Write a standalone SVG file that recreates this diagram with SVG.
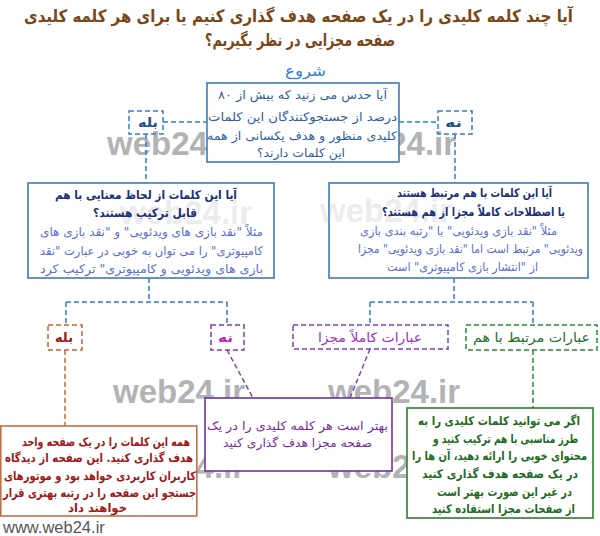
<svg xmlns="http://www.w3.org/2000/svg" width="600" height="536" viewBox="0 0 600 536">
<style>
text{font-family:"DejaVu Sans",sans-serif;text-anchor:middle;}
.fa{direction:rtl;}
.b{font-weight:bold;}
.wm{font-family:"Liberation Sans",Arial,sans-serif;font-weight:bold;font-size:33px;fill:#9a9a9a;opacity:0.75;text-anchor:start;}
.wm2{font-family:"Liberation Sans",Arial,sans-serif;font-weight:bold;font-size:33px;fill:#9a9a9a;opacity:0.18;text-anchor:start;}
.dash{fill:none;stroke-width:1.5;stroke-dasharray:5,3;}
.blue{stroke:#2f7ed4;}
.box{fill:#fff;stroke-width:1.6;}
</style>
<rect width="600" height="536" fill="#fff"/>
<g id="watermarks">
<text class="wm" x="107" y="155">web24.ir</text>
<text class="wm" x="324" y="155">web24.ir</text>
<text class="wm" x="113" y="403">web24.ir</text>
<text class="wm" x="328" y="403">web24.ir</text>
<text class="wm" x="113" y="478">web24.ir</text>
<text class="wm" x="328" y="478">web24.ir</text>
</g>
<g id="title">
<text class="fa b" x="298.5" y="22" font-size="17" fill="#7a4719" textLength="549" lengthAdjust="spacingAndGlyphs">آیا چند کلمه کلیدی را در یک صفحه هدف گذاری کنیم یا برای هر کلمه کلیدی</text>
<text class="fa b" x="300" y="46" font-size="17" fill="#7a4719" textLength="190" lengthAdjust="spacingAndGlyphs">صفحه مجزایی در نظر بگیریم؟</text>
</g>
<g id="start"><text class="fa" x="305.5" y="76" font-size="15" fill="#2f7ed4" textLength="41" lengthAdjust="spacingAndGlyphs">شروع</text></g>
<g id="connectors">
<path class="dash blue" d="M163 122H207M399 122H438M146 134V183M455 134V183"/>
<path class="dash blue" d="M149 278V302M66 302H227M66 302V325M227 302V325"/>
<path class="dash blue" d="M454 278V302M370 302H533M370 302V325M533 302V325"/>
<path class="dash" stroke="#c0653a" d="M65 350V426"/>
<path class="dash" stroke="#7b4aa8" d="M227 350L253 398M370 349L350 398"/>
<path class="dash" stroke="#2a8a2a" d="M533 350V408"/>
</g>
<g id="q1">
<rect class="box" x="207" y="83" width="192" height="79" stroke="#3b7bbf"/>
<g class="fa" font-size="12" fill="#2e5ea0">
<text x="302.5" y="99" textLength="169" lengthAdjust="spacingAndGlyphs">آیا حدس می زنید که بیش از ۸۰</text>
<text x="302.5" y="121" textLength="189" lengthAdjust="spacingAndGlyphs">درصد از جستجوکنندگان این کلمات</text>
<text x="302" y="140" textLength="190" lengthAdjust="spacingAndGlyphs">کلیدی منظور و هدف یکسانی از همه</text>
<text x="301" y="157" textLength="88" lengthAdjust="spacingAndGlyphs">این کلمات دارند؟</text>
</g>
</g>
<g id="yes1">
<rect class="dash blue" x="129" y="111" width="34" height="23"/>
<text class="fa b" x="148" y="127" font-size="13" fill="#1f4f8f" textLength="20" lengthAdjust="spacingAndGlyphs">بله</text>
</g>
<g id="no1">
<rect class="dash blue" x="438" y="111" width="34" height="23"/>
<text class="fa b" x="453.5" y="127" font-size="13" fill="#1f4f8f" textLength="17" lengthAdjust="spacingAndGlyphs">نه</text>
</g>
<g id="q2left">
<rect class="box" x="28" y="183" width="246" height="95" stroke="#3b7bbf"/>
<text class="wm2" x="120" y="224">web24.ir</text>
<g class="fa b" font-size="12" fill="#1c2f7a">
<text x="146" y="199" textLength="182" lengthAdjust="spacingAndGlyphs">آیا این کلمات از لحاظ معنایی با هم</text>
<text x="145" y="217" textLength="104" lengthAdjust="spacingAndGlyphs">قابل ترکیب هستند؟</text>
</g>
<g class="fa" font-size="12" fill="#5a6ed0">
<text x="151.5" y="236" textLength="223" lengthAdjust="spacingAndGlyphs">مثلاً "نقد بازی های ویدئویی" و "نقد بازی های</text>
<text x="151.5" y="255" textLength="223" lengthAdjust="spacingAndGlyphs">کامپیوتری" را می توان به خوبی در عبارت "نقد</text>
<text x="151.5" y="273" textLength="223" lengthAdjust="spacingAndGlyphs">بازی های ویدئویی و کامپیوتری" ترکیب کرد</text>
</g>
</g>
<g id="q2right">
<rect class="box" x="329" y="183" width="259" height="95" stroke="#3b7bbf"/>
<text class="wm2" x="320" y="222">web24.ir</text>
<g class="fa b" font-size="12" fill="#1c2f7a">
<text x="474.5" y="197" textLength="155" lengthAdjust="spacingAndGlyphs">آیا این کلمات با هم مرتبط هستند</text>
<text x="473.5" y="216" textLength="183" lengthAdjust="spacingAndGlyphs">یا اصطلاحات کاملاً مجزا از هم هستند؟</text>
</g>
<g class="fa" font-size="12" fill="#5a6ed0">
<text x="458.5" y="235" textLength="197" lengthAdjust="spacingAndGlyphs">مثلاً "نقد بازی ویدئویی" با "رتبه بندی بازی</text>
<text x="470.5" y="253" textLength="225" lengthAdjust="spacingAndGlyphs">ویدئویی" مرتبط است اما "نقد بازی ویدئویی" مجزا</text>
<text x="462.5" y="271" textLength="151" lengthAdjust="spacingAndGlyphs">از "انتشار بازی کامپیوتری" است</text>
</g>
</g>
<g id="yes2">
<rect class="dash" stroke="#c0653a" x="48" y="325" width="34" height="25"/>
<text class="fa b" x="64" y="342" font-size="13" fill="#9b1c1c" textLength="18" lengthAdjust="spacingAndGlyphs">بله</text>
</g>
<g id="no2">
<rect class="dash" stroke="#7b3fb0" x="211" y="325" width="33" height="25"/>
<text class="fa b" x="225.5" y="342" font-size="13" fill="#c020c0" textLength="15" lengthAdjust="spacingAndGlyphs">نه</text>
</g>
<g id="separate">
<rect class="dash" stroke="#7b3fb0" x="293" y="325" width="155" height="24"/>
<text class="fa" x="370" y="342" font-size="13" fill="#a030c0" textLength="104" lengthAdjust="spacingAndGlyphs">عبارات کاملاً مجزا</text>
</g>
<g id="related">
<rect class="dash" stroke="#2a8a2a" x="466" y="325" width="131" height="25"/>
<text class="fa" x="531.5" y="342" font-size="13" fill="#1f6e1f" textLength="117" lengthAdjust="spacingAndGlyphs">عبارات مرتبط با هم</text>
</g>
<g id="ansYes">
<rect class="box" x="0.8" y="426" width="196" height="90" stroke="#c0704a"/>
<g class="fa b" font-size="12" fill="#a01818">
<text x="106" y="446" textLength="168" lengthAdjust="spacingAndGlyphs">همه این کلمات را در یک صفحه واحد</text>
<text x="99" y="462" textLength="188" lengthAdjust="spacingAndGlyphs">هدف گذاری کنید. این صفحه از دیدگاه</text>
<text x="100" y="480" textLength="192" lengthAdjust="spacingAndGlyphs">کاربران کاربردی خواهد بود و موتورهای</text>
<text x="99.5" y="497" textLength="193" lengthAdjust="spacingAndGlyphs">جستجو این صفحه را در رتبه بهتری قرار</text>
<text x="97.5" y="512" textLength="59" lengthAdjust="spacingAndGlyphs">خواهند داد</text>
</g>
</g>
<g id="ansNo">
<rect class="box" x="205" y="398" width="187" height="73" stroke="#7030a0"/>
<g class="fa" font-size="12" fill="#7a2aa0">
<text x="297.5" y="430" textLength="181" lengthAdjust="spacingAndGlyphs">بهتر است هر کلمه کلیدی را در یک</text>
<text x="297.5" y="447" textLength="149" lengthAdjust="spacingAndGlyphs">صفحه مجزا هدف گذاری کنید</text>
</g>
</g>
<g id="ansRelated">
<rect class="box" x="407" y="408" width="186" height="110" stroke="#2a7f2a"/>
<g class="fa b" font-size="12" fill="#1e6b1e">
<text x="499" y="425" textLength="162" lengthAdjust="spacingAndGlyphs">اگر می توانید کلمات کلیدی را به</text>
<text x="505.5" y="443" textLength="145" lengthAdjust="spacingAndGlyphs">طرز مناسبی با هم ترکیب کنید و</text>
<text x="499.5" y="460" textLength="175" lengthAdjust="spacingAndGlyphs">محتوای خوبی را ارائه دهید، آن ها را</text>
<text x="500" y="478" textLength="156" lengthAdjust="spacingAndGlyphs">در یک صفحه هدف گذاری کنید</text>
<text x="504.5" y="496" textLength="135" lengthAdjust="spacingAndGlyphs">در غیر این صورت بهتر است</text>
<text x="503.5" y="513" textLength="143" lengthAdjust="spacingAndGlyphs">از صفحات مجزا استفاده کنید</text>
</g>
</g>
<g id="footer"><text x="3" y="533" font-size="16.5" fill="#555" style="font-family:'Liberation Sans',Arial,sans-serif;text-anchor:start">www.web24.ir</text></g>
</svg>
